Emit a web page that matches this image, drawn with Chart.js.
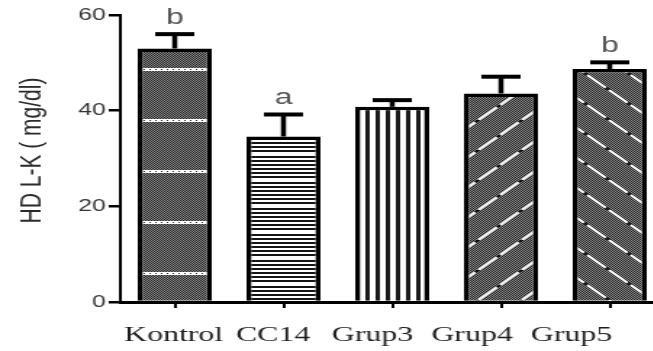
<!DOCTYPE html>
<html lang="tr">
<head>
<meta charset="UTF-8">
<title>HDL-K</title>
<script src="https://cdn.jsdelivr.net/npm/chart.js"></script>
<style>
  html, body { margin: 0; padding: 0; background: #fff; overflow: hidden; }
  /* the figure is drawn narrow and widened, as in the printed version */
  #wrap { width: 469px; height: 351px; transform: scaleX(1.45); transform-origin: 0 0; }
</style>
</head>
<body>
<div id="wrap"><canvas id="hdl" width="469" height="351"></canvas></div>
<script>
const groups = ['Kontrol', 'CC14', 'Grup3', 'Grup4', 'Grup5'];
const hdlMean = [53.0, 34.6, 40.8, 43.6, 48.7];
const hdlErr = [3.0, 4.6, 1.4, 3.5, 1.4];
const sigLetters = ['b', 'a', '', '', 'b'];
const yTicks = [0, 20, 40, 60];
const yTitle = 'HD L-K ( mg/dl)';

// --- hatch fills -------------------------------------------------------
function tile(w, h, paint) {
  const c = document.createElement('canvas');
  c.width = w; c.height = h;
  const g = c.getContext('2d');
  paint(g, w, h);
  return g.createPattern(c, 'repeat');
}

function checker(g, w, h) {
  g.fillStyle = '#8c8c8c';
  g.fillRect(0, 0, w, h);
  g.fillStyle = '#222';
  for (let y = 0; y < h; y++)
    for (let x = y % 2; x < w; x += 2) g.fillRect(x, y, 1, 1);
}

// dotted grey with white dashed bands
const fillKontrol = tile(4, 51, (g, w, h) => {
  checker(g, w, h);
  g.fillStyle = '#fff';
  g.fillRect(0, 0, w, 3);
  g.fillStyle = '#333';
  g.fillRect(3, 1, 1, 1);
});
fillKontrol.setTransform(new DOMMatrix().translate(0, 17));

// horizontal lines
const fillCC14 = tile(2, 26, (g, w, h) => {
  g.fillStyle = '#fff';
  g.fillRect(0, 0, w, h);
  g.fillStyle = '#151515';
  for (let y = 0; y <= 20; y += 4) g.fillRect(0, y, w, 2);
});

// vertical lines
const fillGrup3 = tile(7, 2, (g, w, h) => {
  g.fillStyle = '#fff';
  g.fillRect(0, 0, w, h);
  g.fillStyle = '#1a1a1a';
  g.fillRect(0, 0, 3, h);
});

// dotted grey with white dashed diagonals, dir 1 = "/", -1 = "\"
function diag(dir) {
  return tile(30, 30, (g, w, h) => {
    checker(g, w, h);
    g.lineWidth = 2;
    for (const off of [-w, 0, w]) {
      g.beginPath();
      if (dir > 0) { g.moveTo(off, h); g.lineTo(off + w, 0); }
      else { g.moveTo(off, 0); g.lineTo(off + w, h); }
      g.strokeStyle = '#111';
      g.setLineDash([]);
      g.stroke();
      g.strokeStyle = '#fff';
      g.setLineDash([18, 3.2]);
      g.stroke();
    }
  });
}
const fillGrup4 = diag(1);
const fillGrup5 = diag(-1);

// --- SEM whiskers (upper only), group letters and the y title ----------
const errorBars = {
  id: 'errorBars',
  afterDatasetsDraw(chart) {
    const { ctx, scales: { y } } = chart;
    const meta = chart.getDatasetMeta(0);
    ctx.save();
    ctx.strokeStyle = '#000';
    ctx.fillStyle = '#555';
    ctx.font = '22px Arial';
    ctx.textAlign = 'center';
    ctx.textBaseline = 'alphabetic';
    meta.data.forEach((bar, i) => {
      const top = y.getPixelForValue(hdlMean[i] + hdlErr[i]);
      ctx.lineWidth = 3.5;
      ctx.beginPath();
      ctx.moveTo(bar.x, bar.y);
      ctx.lineTo(bar.x, top);
      ctx.stroke();
      ctx.lineWidth = 4;
      ctx.beginPath();
      ctx.moveTo(bar.x - 13.5, top);
      ctx.lineTo(bar.x + 13.5, top);
      ctx.stroke();
      if (sigLetters[i]) ctx.fillText(sigLetters[i], bar.x, top - 10);
    });
    ctx.restore();
  },
  afterDraw(chart) {
    const { ctx, chartArea } = chart;
    ctx.save();
    ctx.translate(22, (chartArea.top + chartArea.bottom) / 2 - 8);
    ctx.rotate(-Math.PI / 2);
    ctx.font = '21px Arial';
    ctx.fillStyle = '#2a2a2a';
    ctx.textAlign = 'center';
    ctx.textBaseline = 'middle';
    ctx.fillText(yTitle, 0, 0);
    ctx.restore();
  }
};

new Chart(document.getElementById('hdl'), {
  type: 'bar',
  data: {
    labels: groups,
    datasets: [{
      data: hdlMean,
      backgroundColor: [fillKontrol, fillCC14, fillGrup3, fillGrup4, fillGrup5],
      borderColor: '#000',
      borderWidth: 3.5,
      barPercentage: 0.68,
      categoryPercentage: 1
    }]
  },
  options: {
    responsive: false,
    animation: false,
    devicePixelRatio: 1,
    layout: { padding: { top: 15, right: 11, left: 0, bottom: 0 } },
    plugins: { legend: { display: false }, tooltip: { enabled: false } },
    scales: {
      x: {
        grid: { offset: false, drawOnChartArea: false, tickLength: 6, color: '#000', lineWidth: 2 },
        border: { color: '#000', width: 3 },
        ticks: { display: false },
        afterFit(s) { s.height = 8; }
      },
      // group names sit on their own axis, a little tighter than the bars
      names: {
        type: 'linear',
        position: 'bottom',
        offset: false,
        min: -0.535,
        max: 4.93,
        afterBuildTicks(s) { s.ticks = groups.map((g, i) => ({ value: i })); },
        grid: { display: false },
        border: { display: false },
        ticks: {
          callback: (v) => groups[v],
          font: { family: '"Liberation Serif", "Times New Roman", serif', size: 22 },
          color: '#1e1e1e',
          padding: 4,
          autoSkip: false,
          maxRotation: 0
        },
        afterFit(s) { s.height = 41; }
      },
      y: {
        min: 0,
        max: 60,
        afterBuildTicks(s) { s.ticks = yTicks.map(v => ({ value: v })); },
        ticks: { font: { family: 'Arial, "Liberation Sans", sans-serif', size: 17 }, color: '#333', padding: 2 },
        grid: { drawOnChartArea: false, tickLength: 8, color: '#000', lineWidth: 2.5 },
        border: { color: '#000', width: 2 },
        afterFit(s) { s.width = 83; }
      }
    }
  },
  plugins: [errorBars]
});
</script>
</body>
</html>
